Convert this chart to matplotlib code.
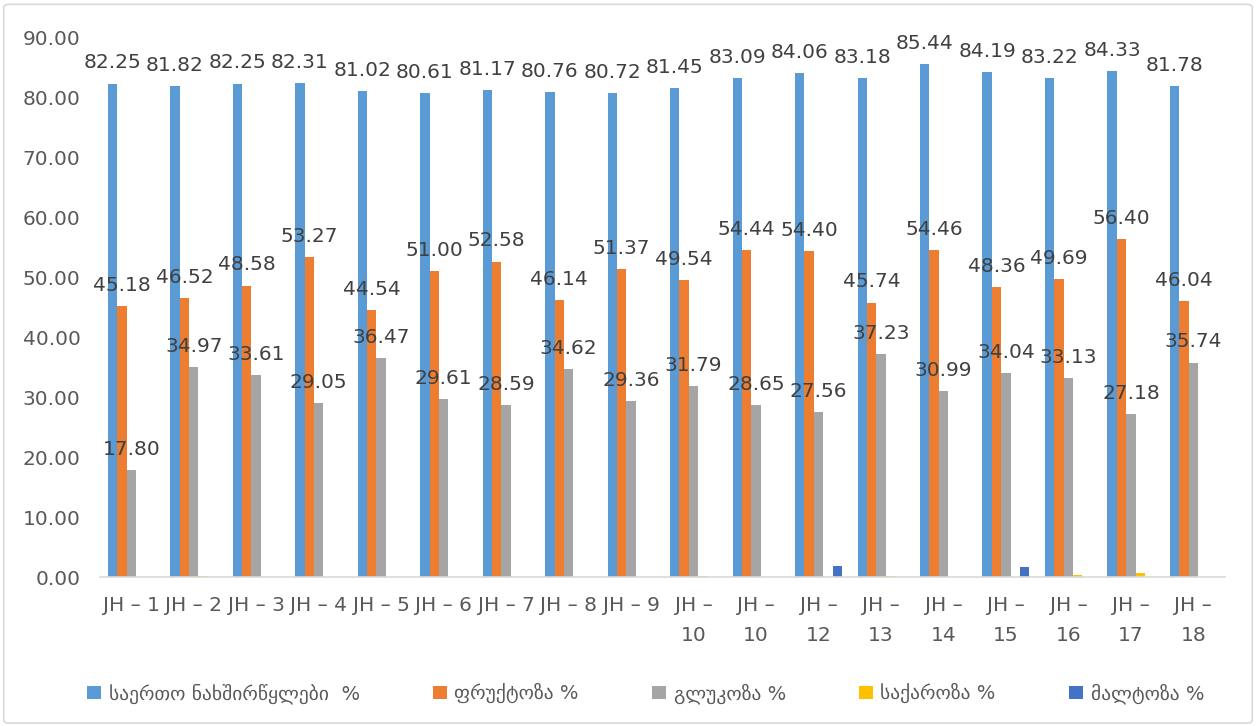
import numpy as np
import matplotlib
matplotlib.use('Agg')
import matplotlib.pyplot as plt
from matplotlib.patches import FancyBboxPatch

# Data
categories = ["JH – 1", "JH – 2", "JH – 3", "JH – 4", "JH – 5", "JH – 6", "JH – 7", "JH – 8", "JH – 9",
              "JH –\n10", "JH –\n10", "JH –\n12", "JH –\n13", "JH –\n14", "JH –\n15", "JH –\n16",
              "JH –\n17", "JH –\n18"]
total_carbs = [82.25, 81.82, 82.25, 82.31, 81.02, 80.61, 81.17, 80.76, 80.72,
               81.45, 83.09, 84.06, 83.18, 85.44, 84.19, 83.22, 84.33, 81.78]
fructose = [45.18, 46.52, 48.58, 53.27, 44.54, 51.00, 52.58, 46.14, 51.37,
            49.54, 54.44, 54.40, 45.74, 54.46, 48.36, 49.69, 56.40, 46.04]
glucose = [17.80, 34.97, 33.61, 29.05, 36.47, 29.61, 28.59, 34.62, 29.36,
           31.79, 28.65, 27.56, 37.23, 30.99, 34.04, 33.13, 27.18, 35.74]
sucrose = [0.0, 0.25, 0.0, 0.0, 0.0, 0.0, 0.0, 0.0, 0.0,
           0.15, 0.0, 0.0, 0.15, 0.0, 0.0, 0.35, 0.6, 0.0]
maltose = [0.0, 0.0, 0.0, 0.0, 0.0, 0.0, 0.0, 0.0, 0.0,
           0.0, 0.0, 1.9, 0.0, 0.0, 1.7, 0.0, 0.0, 0.0]

series_names = ["საერთო ნახშირწყლები  %", "ფრუქტოზა %", "გლუკოზა %", "საქაროზა %", "მალტოზა %"]
colors = ["#5b9bd5", "#ed7d31", "#a5a5a5", "#ffc000", "#4472c4"]

plt.rcParams['font.family'] = ['DejaVu Sans']

fig = plt.figure(figsize=(12.56, 7.26), dpi=100)
ax = fig.add_axes([0.0796, 0.2052, 0.8954, 0.7438])

x = np.arange(len(categories))
w = 0.15
all_series = [total_carbs, fructose, glucose, sucrose, maltose]
for i, (vals, name, col) in enumerate(zip(all_series, series_names, colors)):
    bars = ax.bar(x + (i - 2) * w, vals, w, color=col, label=name)
    # only the first three series carry value labels
    if i < 3:
        ax.bar_label(bars, labels=["%.2f" % v for v in vals], padding=8,
                     fontsize=14.5, color="#404040", clip_on=False)

ax.set_xlim(-0.5, len(categories) - 0.5)
ax.set_ylim(0, 90)
ax.set_yticks(np.arange(0, 91, 10))
ax.set_yticklabels(["%.2f" % v for v in np.arange(0, 91, 10)])
ax.set_xticks(x)
ax.set_xticklabels(categories, linespacing=1.7)

for s in ["left", "right", "top"]:
    ax.spines[s].set_visible(False)
ax.spines["bottom"].set_color("#d9d9d9")
ax.spines["bottom"].set_linewidth(1.2)
ax.tick_params(axis="both", length=0, labelsize=14.5, colors="#595959")
ax.tick_params(axis="y", pad=14)
ax.tick_params(axis="x", pad=14)
for t in ax.get_xticklabels():
    t.set_verticalalignment("top")

fig.legend(loc="center", bbox_to_anchor=(0.514, 0.045), ncol=5, frameon=False,
           fontsize=14, labelcolor="#595959", handlelength=0.7, handleheight=0.7,
           handletextpad=0.4, columnspacing=3.77)

# light chart border
border = FancyBboxPatch((0.003, 0.004), 0.994, 0.99, boxstyle="round,pad=0,rounding_size=0.004",
                        transform=fig.transFigure, fill=False, edgecolor="#d9d9d9", linewidth=1.2)
fig.patches.append(border)

fig.savefig("out.png", dpi=100)
